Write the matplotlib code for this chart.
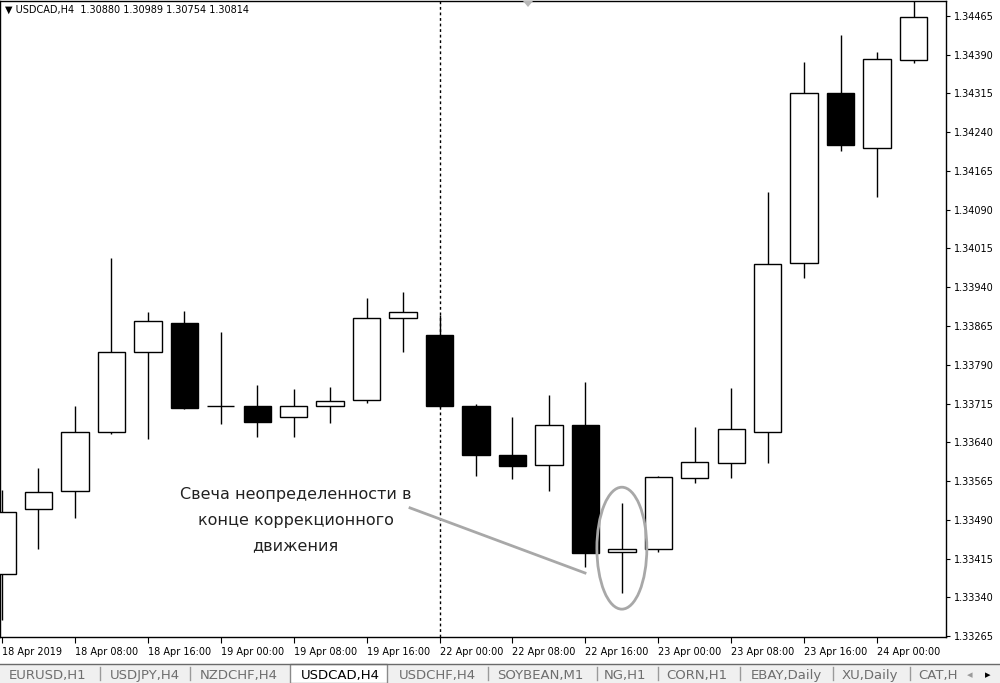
import matplotlib

matplotlib.use("Agg")

import matplotlib.pyplot as plt
from matplotlib.patches import Rectangle, Ellipse, Polygon
from matplotlib.lines import Line2D

# USDCAD H4 candles, 18 Apr 00:00 .. 24 Apr 00:00
opens = [1.33385, 1.33511, 1.33546, 1.33660, 1.33815, 1.33871, 1.33710, 1.33710,
         1.33689, 1.33710, 1.33722, 1.33881, 1.33848, 1.33710, 1.33615, 1.33596,
         1.33673, 1.33428, 1.33433, 1.33571, 1.33600, 1.33660, 1.33987, 1.34316,
         1.34210, 1.34380]
highs = [1.33548, 1.33590, 1.33710, 1.33997, 1.33892, 1.33894, 1.33853, 1.33751,
         1.33743, 1.33747, 1.33919, 1.33931, 1.33886, 1.33714, 1.33689, 1.33731,
         1.33757, 1.33522, 1.33575, 1.33670, 1.33745, 1.34124, 1.34376, 1.34428,
         1.34395, 1.34506]
lows = [1.33296, 1.33433, 1.33493, 1.33656, 1.33646, 1.33704, 1.33675, 1.33650,
        1.33650, 1.33677, 1.33716, 1.33815, 1.33708, 1.33575, 1.33569, 1.33546,
        1.33399, 1.33348, 1.33428, 1.33561, 1.33571, 1.33600, 1.33958, 1.34204,
        1.34115, 1.34374]
closes = [1.33505, 1.33544, 1.33660, 1.33815, 1.33875, 1.33706, 1.33711, 1.33679,
          1.33710, 1.33720, 1.33881, 1.33892, 1.33710, 1.33615, 1.33594, 1.33673,
          1.33426, 1.33433, 1.33573, 1.33602, 1.33666, 1.33985, 1.34316, 1.34215,
          1.34382, 1.34463]

time_labels = ["18 Apr 2019", "18 Apr 08:00", "18 Apr 16:00", "19 Apr 00:00",
               "19 Apr 08:00", "19 Apr 16:00", "22 Apr 00:00", "22 Apr 08:00",
               "22 Apr 16:00", "23 Apr 00:00", "23 Apr 08:00", "23 Apr 16:00",
               "24 Apr 00:00"]
price_ticks = [1.33265 + 0.00075 * k for k in range(17)]
separator_idx = 12   # 22 Apr 00:00, start of the week
marked_idx = 17      # indecision candle

tabs = ["EURUSD,H1", "USDJPY,H4", "NZDCHF,H4", "USDCAD,H4", "USDCHF,H4",
        "SOYBEAN,M1", "NG,H1", "CORN,H1", "EBAY,Daily", "XU,Daily", "CAT,H"]
active_tab = "USDCAD,H4"
header = "▼ USDCAD,H4  1.30880 1.30989 1.30754 1.30814"
note = "Свеча неопределенности в\nконце коррекционного\nдвижения"

W, H = 1000, 683
fig = plt.figure(figsize=(W / 100, H / 100), dpi=100)
ax = fig.add_axes([0.0, 1 - 637 / H, 0.946, 636 / H])

body_w = 0.75
for i, (o, h, l, c) in enumerate(zip(opens, highs, lows, closes)):
    ax.vlines(i, l, h, color="black", lw=1.0, zorder=2)
    bottom, top = min(o, c), max(o, c)
    ax.add_patch(Rectangle((i - body_w / 2, bottom), body_w, max(top - bottom, 0.000005),
                           facecolor="white" if c >= o else "black",
                           edgecolor="black", lw=1.0, zorder=3))

ax.axvline(separator_idx, color="black", lw=1.0, ls=(0, (2, 2)), zorder=1)

ax.set_xlim(-0.055, 25.89)
ax.set_ylim(1.332631, 1.344940)

ax.set_xticks(range(0, len(opens), 2))
ax.set_xticklabels(time_labels, ha="left", fontsize=7)
ax.tick_params(axis="x", direction="out", length=4, width=0.8, pad=3)
ax.yaxis.tick_right()
ax.set_yticks(price_ticks)
ax.set_yticklabels([f"{p:.5f}" for p in price_ticks], fontsize=7)
ax.tick_params(axis="y", direction="out", length=3, width=0.8, pad=3)
for sp in ax.spines.values():
    sp.set_linewidth(1.0)

# annotation
gray = "#a8a8a8"
ax.text(8.05, 1.33489, note, ha="center", va="center", fontsize=11.5,
        color="#222222", linespacing=1.9, zorder=5)
ax.add_line(Line2D([11.19, 15.99], [1.33513, 1.33387], color=gray, lw=2.0, zorder=4))
mid = (highs[marked_idx] + lows[marked_idx]) / 2
ax.add_patch(Ellipse((marked_idx, mid), 1.37, 0.00236, fill=False,
                     edgecolor=gray, lw=2.0, zorder=4))

# header and shift marker
fig.text(5 / W, 1 - 10 / H, header, fontsize=7, va="center", ha="left")
fig.patches.append(Polygon([[523 / W, 1 - 1 / H], [533 / W, 1 - 1 / H], [528 / W, 1 - 7 / H]],
                           closed=True, transform=fig.transFigure, facecolor="#b8b8b8",
                           edgecolor="none"))

# tab bar
fig.patches.append(Rectangle((0, 0), 1, 19 / H, transform=fig.transFigure,
                             facecolor="#f0f0f0", edgecolor="none"))
fig.add_artist(Line2D([0, 1], [19 / H, 19 / H], color="#6a6a6a", lw=1.0,
                      transform=fig.transFigure))
tab_centers = [48, 145, 239, 340, 437, 540, 625, 697, 786, 870, 938]
seps = [100, 190, 488, 597, 658, 740, 833, 910]
fig.patches.append(Rectangle((290 / W, 0), 97 / W, 19 / H, transform=fig.transFigure,
                             facecolor="white", edgecolor="#8a8a8a", lw=1.0))
for s in seps:
    fig.add_artist(Line2D([s / W, s / W], [3 / H, 16 / H], color="#9a9a9a", lw=1.0,
                          transform=fig.transFigure))
for name, cx in zip(tabs, tab_centers):
    fig.text(cx / W, 8 / H, name, ha="center", va="center", fontsize=9.5,
             color="black" if name == active_tab else "#6e6e6e")
fig.text(970 / W, 8 / H, "◂", ha="center", va="center", fontsize=8, color="#9a9a9a")
fig.text(988 / W, 8 / H, "▸", ha="center", va="center", fontsize=8, color="black")

fig.savefig("out.png", dpi=100)
